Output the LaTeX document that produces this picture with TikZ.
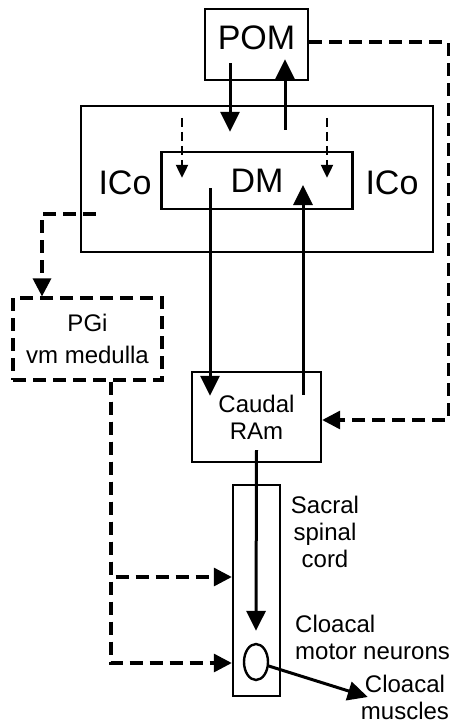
\documentclass[tikz,border=0pt]{standalone}
\usepackage{fontspec}
\setmainfont{Liberation Sans}
\usepackage{tikz}
\usetikzlibrary{arrows,arrows.meta,shapes.geometric}

\begin{document}
\begin{tikzpicture}[x=1pt,y=-1pt]
\tikzstyle{every node}+=[inner sep=0pt]
\tikzstyle{area}=[draw,line width=2.4pt]
\tikzstyle{dasharea}=[draw,line width=3.2pt,dash pattern=on 13pt off 7pt]
\tikzstyle{arr}=[line width=3pt,-{Triangle[length=20pt,width=19pt]}]
\tikzstyle{dasharr}=[line width=3.2pt,dash pattern=on 13pt off 7pt,-{Triangle[length=18pt,width=18pt]}]
\tikzstyle{thinarr}=[line width=2.2pt,dash pattern=on 9pt off 5pt,-{Triangle[length=13pt,width=12pt]}]
\tikzstyle{big}=[font=\fontsize{34}{40}\selectfont]
\tikzstyle{small}=[font=\fontsize{24}{27}\selectfont,align=center]
\useasboundingbox (0,0) rectangle (451,724);
\node [area,minimum width=103pt,minimum height=71pt] (POM) at (256.5,44.5) {};
\node [big] (POMt) at (256.5,38) {POM};
\node [area,minimum width=352pt,minimum height=146pt] (ICo) at (257,179) {};
\node [area,minimum width=191pt,minimum height=57pt,big] (DM) at (257,180.5) {DM};
\node [big] (ICoL) at (125,183) {ICo};
\node [big] (ICoR) at (392,183) {ICo};
\node [dasharea,minimum width=149pt,minimum height=82pt,small,font=\fontsize{24}{32}\selectfont] (PGi) at (87.5,339) {PGi\\vm medulla};
\node [area,minimum width=129pt,minimum height=90pt,small] (RAm) at (256.5,417) {Caudal\\RAm};
\node [area,minimum width=47pt,minimum height=211pt] (Cord) at (256.5,590.5) {};
\node [small] (CordL) at (325,532) {Sacral\\spinal\\cord};
\node [draw,ellipse,line width=2.4pt,minimum width=24pt,minimum height=36pt] (MN) at (256,662) {};
\node [small,align=left,anchor=west] (MNL) at (295,637) {Cloacal\\motor neurons};
\node [small] (Musc) at (405,697) {Cloacal\\muscles};
\draw [arr] ([xshift=-26.5pt,yshift=18pt]POM.south) -- ([xshift=-27pt,yshift=19pt]DM.north);
\draw [arr] ([xshift=28pt,yshift=21pt]DM.north) -- ([xshift=28.5pt,yshift=22pt]POM.south);
\draw [thinarr] ([xshift=-75pt,yshift=-13pt]ICo.north) -- ([xshift=-75pt,yshift=-27pt]DM.north);
\draw [thinarr] ([xshift=70pt,yshift=-13pt]ICo.north) -- ([xshift=70pt,yshift=-27pt]DM.north);
\draw [arr] ([xshift=-47pt,yshift=-7.5pt]DM.center) -- ([xshift=-46.5pt,yshift=-25pt]RAm.north);
\draw [arr] ([xshift=46.5pt,yshift=-24pt]RAm.north) -- ([xshift=46pt,yshift=-4.5pt]DM.center);
\draw [dasharr] ([xshift=16pt,yshift=-35pt]ICo.west) -| ([xshift=-45.5pt]PGi.north);
\draw [dasharr] ([yshift=2.5pt]POM.east) -- ++(139,0) |- ([yshift=-3pt]RAm.east);
\draw [arr] ([yshift=13pt]RAm.south) -- ([yshift=12pt]MN.north);
\draw [dasharr] ([xshift=23.5pt]PGi.south) |- ([yshift=13.5pt]Cord.west);
\draw [dasharr] ([xshift=23.5pt]PGi.south) |- ([yshift=-72.5pt]Cord.west);
\draw [arr] (MN) -- ([xshift=7pt]Musc.west);
\end{tikzpicture}
\end{document}
